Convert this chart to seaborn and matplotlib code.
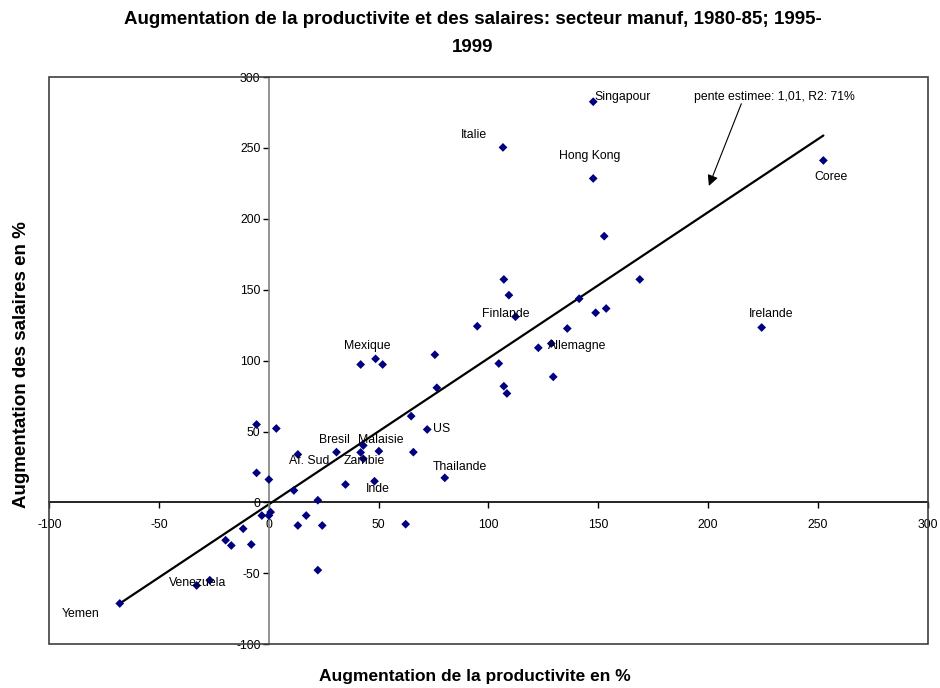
import matplotlib
matplotlib.use("Agg")
import matplotlib.pyplot as plt
from matplotlib.patches import Rectangle
import numpy as np
import pandas as pd
import seaborn as sns

# productivity growth (%) and wage growth (%), manufacturing sector
prod_growth = [-5.6, 3.4, 13.2, 30.8, 41.8, 43.0, 43.0, 50.1, 64.8, 72.1,
               65.8, 80.1, 48.1, 34.9, -5.6, 0.0, 11.4, 22.3, -3.2, 0.0,
               0.8, 17.0, 13.2, 24.3, 62.3, -11.7, -19.7, -17.1, -8.0, 22.3,
               -26.9, -32.9, -67.9, 94.9, 135.9, 41.8, 48.6, 51.8, 75.6, 104.7,
               122.7, 128.6, 129.5, 107.0, 108.4, 76.5, 107.0, 109.3, 112.3, 141.3,
               148.8, 153.6, 168.9, 152.7, 147.7, 106.6, 147.7, 252.5, 224.4]
wage_growth = [55.0, 52.2, 33.9, 35.5, 35.3, 40.2, 30.8, 36.2, 60.9, 51.5,
               35.5, 17.4, 15.0, 12.7, 20.9, 16.2, 8.5, 1.6, -9.2, -9.2,
               -6.8, -9.2, -16.2, -16.2, -15.3, -18.5, -26.6, -30.3, -29.6, -47.7,
               -54.8, -58.5, -71.2, 124.3, 122.7, 97.3, 101.3, 97.3, 104.2, 98.0,
               109.1, 112.1, 88.6, 82.0, 76.9, 80.9, 157.3, 146.2, 131.0, 143.7,
               133.8, 136.8, 157.3, 187.8, 282.6, 250.4, 228.5, 241.2, 123.4]

# country labels and where they sit (data units, text centre)
country_names = ["Singapour", "Italie", "Hong Kong", "Coree", "Irelande", "Finlande",
                 "Allemagne", "Mexique", "US", "Bresil", "Malaisie", "Af. Sud",
                 "Zambie", "Thailande", "Inde", "Venezuela", "Yemen"]
label_x = [161.0, 93.2, 146.0, 256.2, 228.5, 107.8, 140.6, 44.9, 78.6, 29.8,
           51.0, 18.4, 43.4, 86.8, 49.6, -32.3, -85.7]
label_y = [285.6, 258.8, 244.0, 229.2, 132.6, 132.6, 110.2, 110.7, 52.0, 44.4,
           44.4, 29.6, 29.6, 24.7, 9.2, -57.1, -78.3]

# fitted line drawn in the original
fit_slope = 1.03
fit_intercept = -1.3
fit_text = "pente estimee: 1,01, R2: 71%"

df = pd.DataFrame({"prod": prod_growth, "wage": wage_growth})

sns.set_style("white")
plt.rcParams["font.family"] = ["Liberation Sans", "DejaVu Sans"]
plt.rcParams["axes.unicode_minus"] = False
plt.rcParams["text.color"] = "black"
plt.rcParams["xtick.color"] = "black"
plt.rcParams["ytick.color"] = "black"

fig = plt.figure(figsize=(9.4, 6.88), dpi=100)
ax = fig.add_axes([0.0524, 0.0635, 0.9345, 0.8245])

xs = np.array([df["prod"].min(), df["prod"].max()])
ax.plot(xs, fit_slope * xs + fit_intercept, color="black", lw=1.6, zorder=2)

sns.scatterplot(data=df, x="prod", y="wage", marker="D", color="#000080",
                s=20, edgecolor="none", ax=ax, zorder=3)

for name, lx, ly in zip(country_names, label_x, label_y):
    ax.text(lx, ly, name, ha="center", va="center", fontsize=8.8, zorder=4)

ax.annotate("", xy=(199.9, 221.4), xytext=(215.6, 283.0),
            arrowprops=dict(arrowstyle="-|>", color="black", lw=0.8, mutation_scale=16))
ax.text(230.2, 285.6, fit_text, ha="center", va="center", fontsize=8.8)

ax.set_xlim(-100, 300)
ax.set_ylim(-100, 300)
ax.set_xticks(range(-100, 301, 50))
ax.set_yticks(range(-100, 301, 50))

# axes crossing at zero, Excel style
for side in ["top", "right"]:
    ax.spines[side].set_visible(False)
ax.spines["left"].set_position(("data", 0))
ax.spines["bottom"].set_position(("data", 0))
ax.spines["left"].set_color("#808080")
ax.spines["bottom"].set_color("black")
ax.spines["left"].set_linewidth(1.2)
ax.spines["bottom"].set_linewidth(1.2)
ax.tick_params(axis="x", direction="out", length=4, width=1, pad=8, labelsize=8.8)
ax.tick_params(axis="y", direction="out", length=4, width=1, pad=2, labelsize=8.8)
ax.tick_params(axis="both", bottom=True, left=True)
ax.set_xlabel("")
ax.set_ylabel("")

ax.add_patch(Rectangle((0, 0), 1, 1, transform=ax.transAxes, fill=False,
                       edgecolor="#404040", lw=1.2, clip_on=False, zorder=5))

fig.text(0.503, 1 - 19 / 688,
         "Augmentation de la productivite et des salaires: secteur manuf, 1980-85; 1995-",
         ha="center", va="center", fontsize=13.5, fontweight="bold")
fig.text(0.503, 1 - 48 / 688, "1999",
         ha="center", va="center", fontsize=13.5, fontweight="bold")
fig.text(0.505, 1 - 676 / 688, "Augmentation de la productivite en %",
         ha="center", va="center", fontsize=12.5, fontweight="bold")
fig.text(22 / 940, 1 - 365 / 688, "Augmentation des salaires en %",
         ha="center", va="center", fontsize=13.5, fontweight="bold", rotation=90)

fig.savefig("out.png", dpi=100)
